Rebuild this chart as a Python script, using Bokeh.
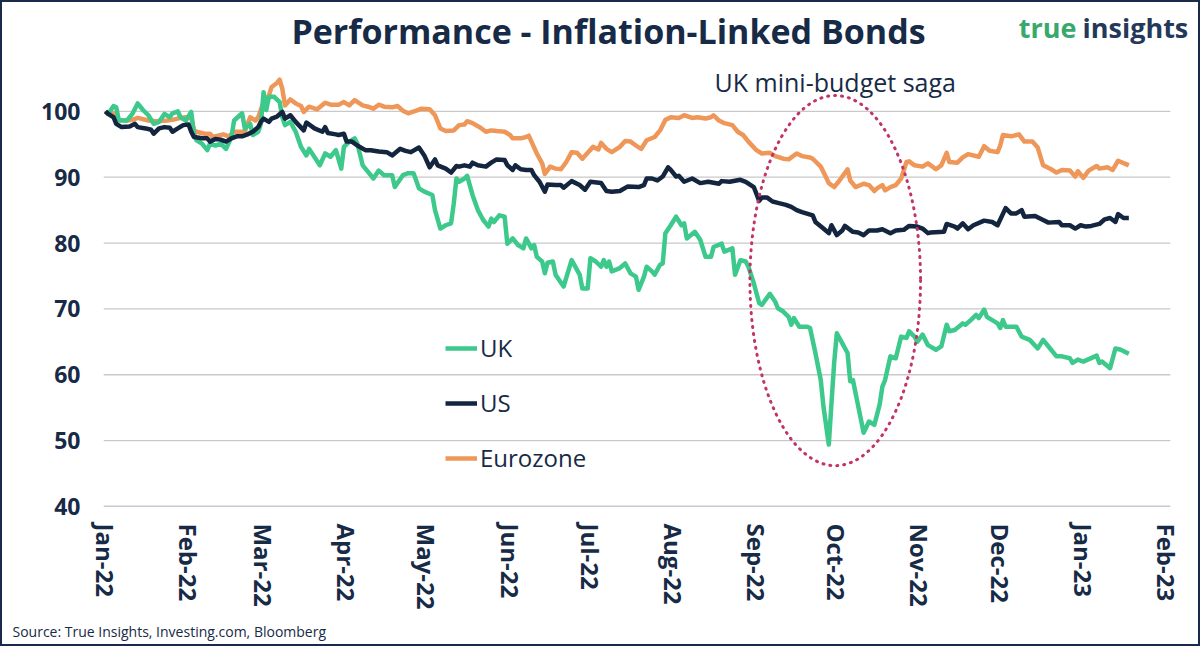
import pandas as pd
from bokeh.plotting import figure
from bokeh.models import (ColumnDataSource, FixedTicker, DatetimeTickFormatter, Range1d,
                          Legend, LegendItem, Label, Title)
from bokeh.embed import file_html
from bokeh.resources import INLINE

# ---------------- data ----------------
START = "2022-01-01"   # day 0 of the day offsets below

uk_day = [0, 1, 3, 4, 5, 8, 10, 12, 14, 16,
          18, 20, 22, 24, 25, 27, 28, 30, 32, 33,
          34, 36, 38, 39, 41, 43, 45, 47, 48, 51,
          52, 54, 55, 57, 58, 59, 60, 61, 63, 65,
          66, 67, 69, 71, 73, 75, 76, 80, 82, 84,
          86, 88, 89, 91, 93, 94, 96, 98, 100, 102,
          104, 107, 108, 111, 113, 115, 117, 119, 122, 123,
          125, 127, 129, 130, 131, 132, 134, 135, 137, 139,
          141, 143, 144, 145, 147, 149, 150, 152, 154, 156,
          157, 159, 160, 161, 163, 164, 165, 167, 168, 171,
          174, 177, 178, 180, 181, 183, 185, 186, 187, 188,
          189, 192, 194, 196, 198, 199, 201, 202, 204, 205,
          207, 208, 209, 211, 213, 215, 216, 217, 220, 222,
          224, 226, 227, 230, 231, 234, 235, 237, 239, 240,
          242, 244, 245, 248, 250, 251, 253, 255, 256, 257,
          259, 262, 263, 265, 267, 268, 270, 271, 272, 273,
          275, 277, 278, 279, 281, 283, 285, 287, 289, 290,
          291, 293, 295, 297, 299, 300, 302, 303, 305, 307,
          310, 312, 314, 315, 317, 320, 321, 323, 325, 326,
          328, 329, 333, 334, 335, 336, 340, 342, 345, 348,
          350, 353, 355, 357, 360, 361, 363, 365, 370, 371,
          372, 375, 377, 379, 382]
uk_val = [100.0, 99.6, 100.8, 100.6, 98.6, 98.6, 99.6, 101.2, 100.2, 99.4,
          98.1, 98.4, 99.6, 99.1, 99.7, 100.0, 99.1, 98.6, 99.9, 96.6,
          95.6, 95.1, 94.1, 95.1, 94.8, 95.1, 94.3, 96.1, 98.6, 99.7,
          97.4, 98.1, 96.4, 96.9, 98.1, 102.9, 100.2, 102.2, 102.2, 101.4,
          99.1, 97.9, 98.4, 96.9, 94.6, 93.3, 94.3, 91.8, 93.6, 93.1,
          94.1, 91.3, 94.6, 95.4, 95.9, 95.1, 91.8, 90.8, 89.8, 91.0,
          90.3, 90.3, 88.5, 90.3, 90.6, 90.6, 88.3, 87.8, 87.3, 85.0,
          82.2, 82.7, 83.0, 86.0, 89.8, 89.3, 89.8, 90.2, 87.3, 85.0,
          83.5, 82.5, 83.7, 83.2, 84.2, 84.0, 79.9, 80.7, 79.7, 79.2,
          80.7, 79.2, 79.7, 77.9, 77.2, 75.4, 77.0, 77.2, 75.2, 73.4,
          77.4, 75.2, 73.1, 73.1, 77.7, 77.2, 76.4, 77.4, 76.4, 77.2,
          75.7, 76.2, 76.9, 75.4, 74.9, 72.9, 74.9, 76.4, 75.7, 75.2,
          76.7, 76.9, 81.5, 82.7, 84.0, 82.7, 83.0, 80.7, 81.7, 80.5,
          77.9, 77.9, 79.4, 79.9, 78.7, 79.2, 75.2, 77.4, 77.2, 76.4,
          73.9, 70.9, 70.6, 72.3, 71.1, 70.1, 69.6, 68.8, 67.6, 68.6,
          67.3, 67.3, 67.1, 63.3, 59.2, 55.2, 49.4, 55.7, 61.8, 66.3,
          64.8, 63.3, 59.0, 59.2, 55.2, 51.2, 52.9, 52.4, 55.5, 58.2,
          59.2, 62.8, 62.5, 65.8, 65.6, 66.6, 65.8, 65.0, 66.1, 64.5,
          63.8, 64.3, 67.6, 66.6, 66.8, 67.8, 67.6, 68.3, 69.1, 68.6,
          69.9, 68.8, 67.8, 67.1, 68.3, 67.3, 67.3, 65.8, 65.3, 64.0,
          65.3, 63.8, 62.8, 62.8, 62.5, 61.8, 62.3, 62.0, 62.9, 61.8,
          62.0, 61.0, 64.0, 63.8, 63.2]

us_day = [0, 1, 3, 4, 6, 9, 11, 12, 15, 17,
          18, 20, 22, 24, 25, 27, 29, 31, 32, 33,
          36, 38, 39, 41, 43, 45, 47, 49, 51, 53,
          55, 57, 58, 59, 61, 62, 64, 66, 67, 69,
          71, 74, 75, 78, 81, 82, 83, 86, 87, 89,
          90, 92, 94, 97, 99, 102, 105, 107, 110, 112,
          114, 117, 119, 121, 123, 124, 127, 129, 131, 132,
          134, 136, 137, 139, 142, 144, 146, 149, 150, 152,
          153, 155, 157, 159, 160, 162, 164, 165, 168, 170,
          171, 174, 177, 179, 181, 185, 187, 189, 192, 195,
          199, 201, 202, 204, 206, 208, 210, 211, 213, 214,
          216, 219, 222, 225, 229, 230, 233, 237, 239, 242,
          244, 245, 247, 249, 251, 254, 256, 258, 260, 264,
          265, 268, 270, 271, 273, 275, 276, 279, 281, 283,
          285, 288, 290, 293, 295, 298, 300, 303, 305, 307,
          308, 313, 314, 317, 318, 320, 322, 324, 328, 331,
          333, 336, 338, 340, 342, 343, 347, 350, 352, 356,
          357, 360, 362, 364, 366, 368, 371, 373, 375, 377,
          378, 380, 382]
us_val = [100.0, 99.6, 99.1, 98.1, 97.6, 97.7, 98.1, 97.6, 97.4, 97.2,
          96.6, 97.4, 97.6, 97.5, 96.9, 97.4, 97.9, 98.0, 96.9, 96.1,
          95.9, 95.9, 95.4, 95.8, 95.7, 95.4, 95.9, 96.2, 96.2, 96.5,
          96.9, 97.6, 98.4, 98.9, 98.4, 98.9, 99.2, 99.9, 98.9, 99.4,
          98.4, 97.1, 98.3, 97.4, 96.9, 97.6, 96.7, 96.5, 96.4, 96.6,
          95.4, 95.4, 94.8, 94.1, 94.1, 93.9, 93.8, 93.3, 94.3, 94.0,
          93.8, 94.5, 93.3, 91.5, 92.7, 91.8, 91.3, 90.7, 91.7, 91.6,
          91.8, 91.6, 92.2, 91.8, 91.6, 92.2, 92.7, 92.6, 91.8, 91.1,
          91.8, 91.2, 91.1, 91.1, 90.3, 89.3, 87.8, 88.9, 88.8, 88.8,
          88.4, 89.4, 88.8, 88.1, 89.3, 89.1, 87.9, 87.8, 87.9, 88.6,
          88.5, 88.8, 89.8, 89.8, 89.5, 90.1, 91.5, 91.1, 90.1, 90.2,
          89.3, 89.8, 89.1, 89.3, 89.0, 89.4, 89.3, 89.6, 89.3, 88.5,
          86.4, 86.9, 86.9, 86.3, 86.1, 85.8, 85.5, 85.0, 84.7, 84.2,
          83.2, 82.2, 81.5, 82.7, 81.2, 81.9, 82.6, 81.7, 81.6, 81.2,
          81.9, 81.9, 82.1, 81.5, 81.9, 82.0, 82.6, 82.5, 82.2, 81.5,
          81.6, 81.7, 82.9, 82.5, 82.2, 83.0, 82.1, 82.7, 83.4, 83.2,
          82.7, 85.3, 84.5, 84.5, 85.0, 84.0, 84.1, 83.5, 83.1, 83.2,
          82.7, 82.7, 82.2, 82.7, 82.5, 82.6, 82.9, 83.6, 83.8, 83.2,
          84.4, 83.8, 83.8]

ez_day = [0, 1, 3, 4, 8, 10, 12, 16, 19, 23,
          25, 28, 30, 32, 33, 34, 37, 39, 40, 42,
          44, 46, 48, 49, 52, 53, 54, 56, 57, 59,
          60, 61, 62, 64, 65, 66, 67, 69, 71, 73,
          74, 76, 79, 82, 84, 87, 89, 91, 93, 96,
          98, 100, 102, 104, 107, 109, 111, 113, 116, 118,
          121, 123, 125, 127, 130, 132, 134, 135, 137, 140,
          142, 144, 146, 149, 151, 152, 155, 157, 158, 159,
          161, 163, 164, 166, 168, 170, 172, 174, 176, 178,
          180, 182, 184, 185, 187, 189, 192, 194, 196, 198,
          200, 202, 205, 207, 209, 211, 214, 216, 219, 221,
          224, 226, 227, 229, 231, 234, 236, 238, 240, 243,
          245, 248, 250, 253, 255, 258, 260, 263, 264, 267,
          268, 270, 272, 274, 277, 278, 280, 283, 285, 287,
          288, 290, 291, 293, 295, 297, 299, 300, 302, 305,
          307, 310, 312, 314, 315, 318, 320, 322, 326, 328,
          330, 333, 334, 335, 338, 341, 343, 346, 348, 350,
          353, 355, 357, 360, 362, 363, 365, 367, 370, 371,
          374, 376, 378, 382]
ez_val = [100.0, 99.6, 99.7, 98.7, 98.6, 98.7, 99.0, 98.6, 98.5, 98.6,
          98.7, 99.0, 99.1, 99.0, 97.2, 96.9, 96.6, 96.6, 96.1, 96.3,
          96.5, 96.2, 96.9, 96.9, 96.9, 98.1, 99.1, 98.6, 99.1, 101.4,
          101.9, 102.4, 103.7, 104.3, 104.8, 103.4, 100.9, 101.8, 101.2, 100.8,
          99.9, 100.7, 100.3, 101.3, 101.0, 101.0, 101.4, 100.9, 101.7, 100.9,
          100.7, 100.4, 101.0, 100.7, 100.6, 100.8, 100.1, 99.7, 100.1, 100.4,
          100.3, 99.4, 97.4, 97.0, 97.1, 97.9, 98.0, 98.5, 98.2, 97.5,
          96.9, 97.1, 97.0, 96.9, 96.4, 95.9, 95.9, 96.1, 96.3, 95.4,
          93.6, 92.1, 90.5, 91.6, 91.3, 91.2, 92.3, 93.8, 93.7, 92.8,
          93.7, 94.6, 94.2, 95.2, 94.3, 93.8, 94.6, 95.5, 95.4, 94.8,
          94.3, 95.6, 96.1, 97.1, 98.7, 99.1, 99.0, 99.4, 99.0, 99.1,
          98.9, 99.1, 99.4, 98.6, 98.2, 97.9, 96.9, 96.4, 95.4, 94.1,
          93.6, 93.7, 93.2, 92.8, 92.7, 93.6, 93.2, 93.0, 92.8, 91.6,
          90.8, 89.1, 88.5, 89.5, 91.2, 89.5, 88.5, 89.0, 88.8, 87.9,
          88.3, 88.8, 88.0, 88.5, 88.8, 89.8, 92.3, 92.4, 91.8, 91.6,
          92.1, 91.2, 91.8, 93.7, 92.3, 92.2, 93.0, 93.5, 93.1, 94.7,
          94.0, 93.8, 94.8, 96.4, 96.2, 96.5, 95.4, 95.4, 94.5, 91.8,
          91.2, 90.7, 91.1, 91.0, 90.1, 90.9, 89.9, 91.0, 91.7, 91.3,
          91.5, 91.1, 92.5, 91.8]

series_names = ["UK", "US", "Eurozone"]
y_ticks = [40, 50, 60, 70, 80, 90, 100]
x_tick_months = pd.date_range("2022-01-01", "2023-02-01", freq="MS")

# annotation: dotted ellipse around the mini-budget episode
saga_text = "UK mini-budget saga"
saga_center_day = 272.4
saga_width_days = 63.7
saga_center_val = 74.3
saga_height_val = 56.2

title_text = "Performance - Inflation-Linked Bonds"
logo_left, logo_right = "true", "insights"
source_text = "Source: True Insights, Investing.com, Bloomberg"

# ---------------- styling ----------------
NAVY = "#172a46"
UK_C = "#3cc98b"
US_C = "#14253f"
EZ_C = "#ef9759"
ELL_C = "#c2336a"
GRID_C = "#c9c9c9"
AXIS_C = "#8d96a4"
FONT = "Open Sans"

assert len(uk_day) == len(uk_val)
assert len(us_day) == len(us_val)
assert len(ez_day) == len(ez_val)

t0 = pd.Timestamp(START)


def to_ms(days):
    ts = t0 + pd.to_timedelta(pd.Series(days, dtype=float), unit="D")
    return [t.timestamp() * 1000.0 for t in ts]


DAY_MS = 86400000.0
x_start = to_ms([-0.75])[0]
x_end = to_ms([409.5])[0]
grid_end = to_ms([397.5])[0]

W, H = 1196, 642   # + 2px CSS border on each side = 1200 x 646
p = figure(width=W, height=H, x_axis_type="datetime", output_backend="svg",
           toolbar_location=None, title=None,
           x_range=Range1d(x_start, x_end), y_range=Range1d(40, 116.52),
           min_border_left=101, min_border_right=0, min_border_top=0,
           min_border_bottom=137)
p.styles = {"border": "2px solid #1b2a4a", "box-sizing": "content-box"}
p.background_fill_color = "white"
p.border_fill_color = "white"
p.outline_line_color = None

# horizontal gridlines at the y ticks (stop where the date axis ends)
grid_src = ColumnDataSource(dict(x0=[x_start] * len(y_ticks), x1=[grid_end] * len(y_ticks),
                                 y=y_ticks,
                                 c=[AXIS_C if v == y_ticks[0] else GRID_C for v in y_ticks],
                                 w=[1.6 if v == y_ticks[0] else 1.3 for v in y_ticks]))
p.segment(x0="x0", y0="y", x1="x1", y1="y", source=grid_src, line_color="c", line_width="w")

src_uk = ColumnDataSource(dict(x=to_ms(uk_day), y=uk_val))
src_us = ColumnDataSource(dict(x=to_ms(us_day), y=us_val))
src_ez = ColumnDataSource(dict(x=to_ms(ez_day), y=ez_val))

LW = 4.5
r_ez = p.line("x", "y", source=src_ez, line_color=EZ_C, line_width=LW, line_join="round")
r_uk = p.line("x", "y", source=src_uk, line_color=UK_C, line_width=LW, line_join="round")
r_us = p.line("x", "y", source=src_us, line_color=US_C, line_width=LW, line_join="round")

# axes
p.yaxis.ticker = FixedTicker(ticks=y_ticks)
p.yaxis.axis_line_color = None
p.yaxis.major_tick_line_color = None
p.yaxis.minor_tick_line_color = None
p.yaxis.major_tick_out = 0
p.yaxis.major_tick_in = 0
p.yaxis.major_label_standoff = 23
p.yaxis.major_label_text_font = FONT
p.yaxis.major_label_text_font_style = "bold"
p.yaxis.major_label_text_font_size = "23px"
p.yaxis.major_label_text_color = NAVY

p.xaxis.ticker = FixedTicker(ticks=[t.timestamp() * 1000.0 for t in x_tick_months])
fmt = "%b-%y"
p.xaxis.formatter = DatetimeTickFormatter(months=fmt, days=fmt, years=fmt, hours=fmt,
                                          minutes=fmt, seconds=fmt, milliseconds=fmt,
                                          microseconds=fmt, hourmin=fmt, minsec=fmt)
p.xaxis.major_label_orientation = "vertical"
p.xaxis.axis_line_color = None
p.xaxis.major_tick_line_color = None
p.xaxis.minor_tick_line_color = None
p.xaxis.major_tick_out = 0
p.xaxis.major_tick_in = 0
p.xaxis.major_label_standoff = 17
p.xaxis.major_label_text_font = FONT
p.xaxis.major_label_text_font_style = "bold"
p.xaxis.major_label_text_font_size = "24px"
p.xaxis.major_label_text_color = NAVY

p.xgrid.grid_line_color = None
p.ygrid.grid_line_color = None

# ellipse annotation
p.ellipse(x=to_ms([saga_center_day]), y=[saga_center_val],
          width=[saga_width_days * DAY_MS], height=[saga_height_val],
          fill_color=None, line_color=ELL_C, line_width=3,
          line_dash="1 6", line_cap="round")

p.add_layout(Label(x=to_ms([saga_center_day])[0], y=104.4, text=saga_text,
                   text_align="center", text_baseline="middle", text_font=FONT,
                   text_font_size="25px", text_color=NAVY))

# legend
legend = Legend(items=[LegendItem(label=series_names[0], renderers=[r_uk]),
                       LegendItem(label=series_names[1], renderers=[r_us]),
                       LegendItem(label=series_names[2], renderers=[r_ez])],
                location=(342, 32))
legend.label_text_font = FONT
legend.label_text_font_size = "24px"
legend.label_text_color = NAVY
legend.glyph_width = 32
legend.glyph_height = 30
legend.label_height = 30
legend.spacing = 22
legend.padding = 0
legend.margin = 0
legend.label_standoff = 3
legend.border_line_color = None
legend.background_fill_alpha = 0
p.add_layout(legend)

# title and logo (screen units relative to the plot frame, which reaches the top edge)
p.add_layout(Label(x=505, y=476, x_units="screen", y_units="screen", text=title_text,
                   text_align="center", text_baseline="middle", text_font=FONT,
                   text_font_style="bold", text_font_size="34px", text_color=NAVY))
p.add_layout(Label(x=973, y=479, x_units="screen", y_units="screen", text=logo_left,
                   text_align="right", text_baseline="alphabetic", text_font=FONT,
                   text_font_style="bold", text_font_size="27px", text_color="#37a96c"))
p.add_layout(Label(x=979, y=479, x_units="screen", y_units="screen", text=logo_right,
                   text_align="left", text_baseline="alphabetic", text_font=FONT,
                   text_font_style="bold", text_font_size="27px", text_color="#24395a"))

# source line below the axis
p.add_layout(Title(text=source_text, align="left", offset=-91, text_font=FONT,
                   text_font_style="normal", text_font_size="14px", text_color=NAVY,
                   standoff=15), "below")

open("out.html", "w").write(file_html(p, INLINE))
